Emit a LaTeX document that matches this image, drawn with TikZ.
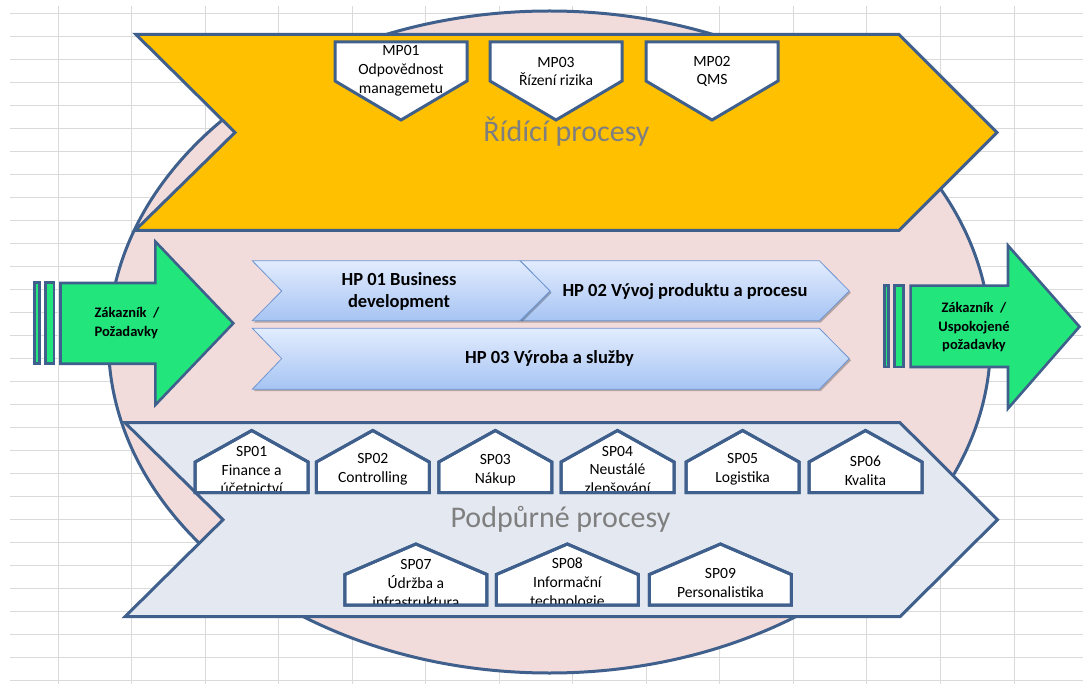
\documentclass[tikz,border=0pt]{standalone}
\usepackage{fontspec}
\setmainfont{Carlito}
\definecolor{edge}{HTML}{3F5F8C}
\definecolor{gridc}{HTML}{DADADA}
\definecolor{yel}{HTML}{FFC000}
\definecolor{pinkf}{HTML}{F2DCDB}
\definecolor{grayf}{HTML}{E4E9F1}
\definecolor{greenf}{HTML}{22E67C}
\definecolor{hptop}{HTML}{E2ECFE}
\definecolor{hpbot}{HTML}{A6C4F3}
\definecolor{hpedge}{HTML}{6F96D2}
\definecolor{titlegray}{HTML}{7F7F7F}
\newcommand{\mpbox}[4]{% name, cx, text center y, text
  \draw[boxline,fill=white] (#2-66,42) -- (#2+66,42) -- (#2+66,81) -- (#2,120) -- (#2-66,81) -- cycle;
  \node[boxtxt] (#1) at (#2,#3) {#4};}
\newcommand{\spbox}[8]{% name, cx, hw, peak, shoulder, bottom, text y, text
  \draw[boxline,fill=white] (#2-#3,#6) -- (#2-#3,#5) -- (#2,#4) -- (#2+#3,#5) -- (#2+#3,#6) -- cycle;
  \begin{scope}
    \clip (#2-#3,#6) -- (#2-#3,#5) -- (#2,#4) -- (#2+#3,#5) -- (#2+#3,#6) -- cycle;
    \node[boxtxt] (#1) at (#2,#7) {#8};
  \end{scope}
  \draw[boxline] (#2-#3,#6) -- (#2-#3,#5) -- (#2,#4) -- (#2+#3,#5) -- (#2+#3,#6) -- cycle;}
\begin{document}
\begin{tikzpicture}[x=1pt,y=-1pt,
  gridline/.style={draw=gridc,line width=0.9pt},
  bigchev/.style={draw=edge,line width=3pt,line join=miter},
  boxline/.style={draw=edge,line width=3pt,line join=miter},
  hpshape/.style={draw=hpedge,line width=0.8pt,top color=hptop,bottom color=hpbot,
    preaction={fill=black,fill opacity=0.25,transform canvas={xshift=1.6pt,yshift=-1.8pt}}},
  greenshape/.style={draw=edge,fill=greenf,line width=2.6pt,line join=miter},
  boxtxt/.style={align=center,inner sep=0pt,font=\fontsize{15.6}{18.8}\selectfont},
  hptxt/.style={align=center,inner sep=0pt,font=\bfseries\fontsize{18.5}{22.7}\selectfont},
  grtxt/.style={align=center,inner sep=0pt,font=\bfseries\fontsize{14.5}{18.5}\selectfont},
  titletxt/.style={inner sep=0pt,text=titlegray,font=\fontsize{30}{36}\selectfont}]
\useasboundingbox[fill=white] (0,0) rectangle (1083,684);
% spreadsheet grid
\foreach \k in {0,...,29} \draw[gridline] (10,13+23*\k) -- (1083,13+23*\k);
\foreach \k in {0,...,13} \draw[gridline] (58.2+73.52*\k,6) -- (58.2+73.52*\k,684);
% ellipse
\draw[draw=edge,fill=pinkf,line width=3pt] (549.5,342) ellipse [x radius=441pt, y radius=331pt];
% control processes chevron
\draw[bigchev,fill=yel] (136,34.5) -- (899,34.5) -- (997,132.5) -- (899,230.5) -- (135,230.5) -- (235,132.5) -- cycle;
% support processes chevron
\draw[bigchev,fill=grayf] (125,422.7) -- (900,422.7) -- (997.5,519.7) -- (900,616.7) -- (125,616.7) -- (223,519.7) -- cycle;
% main processes
\path[hpshape] (520,260.7) -- (819.3,260.7) -- (849.3,291) -- (819.3,320.7) -- (520,320.7) -- (550,291) -- cycle;
\path[hpshape] (252.3,260.7) -- (520,260.7) -- (550,291) -- (520,320.7) -- (252.3,320.7) -- (281.7,291) -- cycle;
\path[hpshape] (252.3,328.3) -- (819.3,328.3) -- (849.3,358.6) -- (819.3,389.3) -- (252.3,389.3) -- (281.7,358.6) -- cycle;
\node[hptxt] (hp1) at (399,291.5) {HP 01 Business\\development};
\node[hptxt] (hp2) at (685,291.5) {HP 02 Vývoj produktu a procesu};
\node[hptxt] (hp3) at (549.5,358.8) {HP 03 Výroba a služby};
% input arrow
\path[greenshape] (34.6,282.3) rectangle (39.4,363.7);
\path[greenshape] (45.2,282.3) rectangle (54,363.7);
\path[greenshape] (60.5,283) -- (155.3,283) -- (155.3,241.5) -- (233.3,323.3) -- (155.3,405) -- (155.3,363.7) -- (60.5,363.7) -- cycle;
\node[grtxt,align=left] (kin) at (127,323.3) {Zákazník\ \ /\\Požadavky};
% output arrow
\path[greenshape] (884.6,285.6) rectangle (888.7,367);
\path[greenshape] (894.6,285.6) rectangle (903.7,367);
\path[greenshape] (910.6,285.6) -- (1008,285.6) -- (1008,245.5) -- (1079.5,326.7) -- (1008,408.5) -- (1008,367) -- (910.6,367) -- cycle;
\node[grtxt] (kout) at (974,327.4) {Zákazník\ \ /\\Uspokojené\\požadavky};
% MP boxes
\mpbox{mp1}{401}{70.5}{MP01\\Odpovědnost\\managemetu}
\mpbox{mp3}{556}{71.5}{MP03\\Řízení rizika}
\mpbox{mp2}{712}{71.5}{MP02\\QMS}
% SP boxes, top row
\spbox{sp1}{251.7}{56.5}{430.5}{462}{492.5}{470}{SP01\\Finance a\\účetnictví}
\spbox{sp2}{372.8}{56.5}{430.5}{462}{492.5}{469.5}{SP02\\Controlling}
\spbox{sp3}{495.3}{56.5}{430.5}{462}{492.5}{470.5}{SP03\\Nákup}
\spbox{sp4}{617.5}{56.5}{430.5}{462}{492.5}{471}{SP04\\Neustálé\\zlepšování}
\spbox{sp5}{742.6}{56.5}{430.5}{462}{492.5}{469.5}{SP05\\Logistika}
\spbox{sp6}{865.5}{56.5}{430.5}{462}{492.5}{470.5}{SP06\\Kvalita}
% SP boxes, bottom row
\spbox{sp7}{415.9}{71}{544}{574.5}{605}{583.3}{SP07\\Údržba a\\infrastruktura}
\spbox{sp8}{567.3}{71}{544}{574.5}{605}{583.3}{SP08\\Informační\\technologie}
\spbox{sp9}{720.4}{71}{544}{574.5}{605}{583.3}{SP09\\Personalistika}
% titles
\node[titletxt] (ridici) at (566.5,132) {Řídící procesy};
\node[titletxt] (podpurne) at (560.5,519.5) {Podpůrné procesy};
\end{tikzpicture}
\end{document}
